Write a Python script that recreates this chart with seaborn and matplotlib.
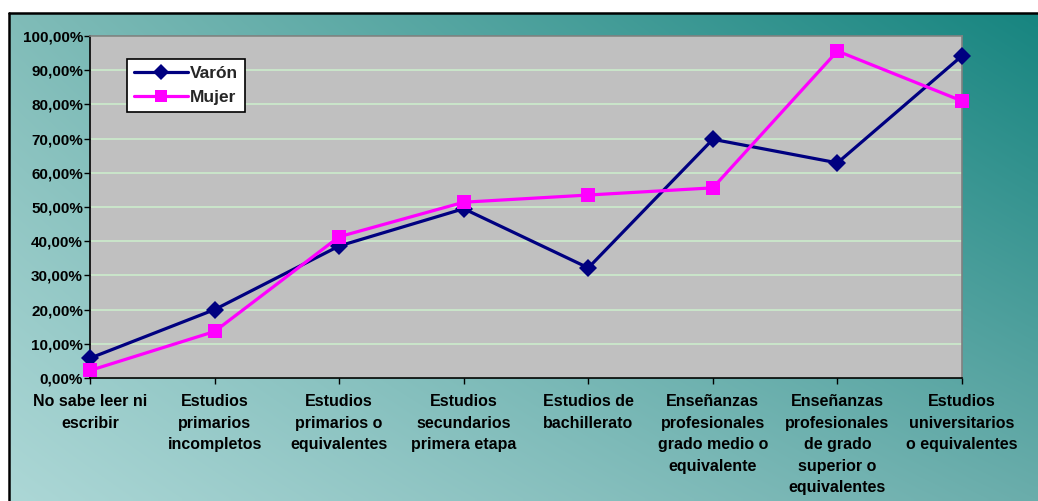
import numpy as np
import pandas as pd
import matplotlib
matplotlib.use("Agg")
import matplotlib.pyplot as plt
from matplotlib.lines import Line2D
from matplotlib.ticker import FuncFormatter, MultipleLocator
import seaborn as sns

categories = [
    "No sabe leer ni\nescribir",
    "Estudios\nprimarios\nincompletos",
    "Estudios\nprimarios o\nequivalentes",
    "Estudios\nsecundarios\nprimera etapa",
    "Estudios de\nbachillerato",
    "Enseñanzas\nprofesionales\ngrado medio o\nequivalente",
    "Enseñanzas\nprofesionales\nde grado\nsuperior o\nequivalentes",
    "Estudios\nuniversitarios\no equivalentes",
]
varon = [5.8, 20.0, 38.6, 49.5, 32.2, 69.8, 62.9, 94.2]
mujer = [2.2, 13.6, 41.3, 51.4, 53.5, 55.6, 95.6, 81.0]
series_names = ["Varón", "Mujer"]

sns.set_theme(style="white")
plt.rcParams["font.family"] = ["Liberation Sans", "DejaVu Sans"]
plt.rcParams["font.weight"] = "bold"

W, H = 1038, 501
fig = plt.figure(figsize=(W / 100, H / 100), dpi=100)
fig.patch.set_facecolor("white")

# gradient chart-area background
x0 = 9 / W
y1 = 1 - 13 / H
bg = fig.add_axes([x0, 0, 1 - x0, y1], zorder=-10)
tl = np.array([128, 188, 184]) / 255
tr = np.array([23, 133, 128]) / 255
bl = np.array([172, 215, 214]) / 255
br = np.array([106, 173, 171]) / 255
u = np.linspace(0, 1, 200)[None, :, None]
v = np.linspace(1, 0, 100)[:, None, None]
img = (tl * (1 - u) * v + tr * u * v + bl * (1 - u) * (1 - v) + br * u * (1 - v))
bg.imshow(img, aspect="auto", extent=[0, 1, 0, 1], interpolation="bilinear")
bg.set_axis_off()
fig.add_artist(Line2D([x0, 1], [y1, y1], color="black", lw=1.8, transform=fig.transFigure))
fig.add_artist(Line2D([x0, x0], [0, y1], color="black", lw=1.8, transform=fig.transFigure))

ax = fig.add_axes([90 / W, 1 - 378 / H, (962 - 90) / W, (378 - 36) / H])
ax.set_facecolor("#c0c0c0")

df = pd.DataFrame({
    "x": list(range(len(categories))) * 2,
    "valor": varon + mujer,
    "serie": [series_names[0]] * len(categories) + [series_names[1]] * len(categories),
})
sns.lineplot(
    data=df, x="x", y="valor", hue="serie", style="serie",
    hue_order=series_names, style_order=series_names,
    palette={"Varón": "#000080", "Mujer": "#ff00ff"},
    markers={"Varón": "D", "Mujer": "s"}, dashes=False,
    linewidth=2.3, markersize=9.5, markeredgewidth=0, ax=ax, zorder=3,
)
for ln in ax.lines:
    ln.set_clip_on(False)

ax.set_xlim(0, len(categories) - 1)
ax.set_ylim(0, 100)
ax.yaxis.set_major_locator(MultipleLocator(10))
ax.yaxis.set_major_formatter(FuncFormatter(lambda v, p: f"{v:.2f}%".replace(".", ",")))
ax.set_xticks(range(len(categories)))
ax.set_xticklabels(categories, fontsize=11.5, fontweight="bold", linespacing=1.55)
for lab in ax.get_yticklabels():
    lab.set_fontsize(11)
    lab.set_fontweight("bold")
ax.set_xlabel("")
ax.set_ylabel("")
ax.grid(axis="y", color="#ccf0cc", lw=1.1, zorder=1)
ax.set_axisbelow(True)
ax.tick_params(axis="both", direction="out", length=4, width=1, color="black",
               labelcolor="black", left=True, bottom=True)
ax.tick_params(axis="y", pad=1)
ax.tick_params(axis="x", pad=7.5)
for s in ["left", "bottom"]:
    ax.spines[s].set_color("black")
    ax.spines[s].set_linewidth(1.2)
for s in ["top", "right"]:
    ax.spines[s].set_color("#808080")
    ax.spines[s].set_linewidth(1.2)

handles, labels = ax.get_legend_handles_labels()
for h in handles:
    h.set_markersize(8)
leg = ax.legend(handles, labels, loc="upper left",
                bbox_to_anchor=((127 - 90) / 872, (378 - 59) / 342),
                frameon=True, fancybox=False, framealpha=1, edgecolor="black",
                facecolor="white", prop={"weight": "bold", "size": 12.5},
                handlelength=3.1, handletextpad=0.15, borderpad=0.4,
                labelspacing=0.5, borderaxespad=0)
leg.get_frame().set_linewidth(1.2)

fig.savefig("out.png", dpi=100)
